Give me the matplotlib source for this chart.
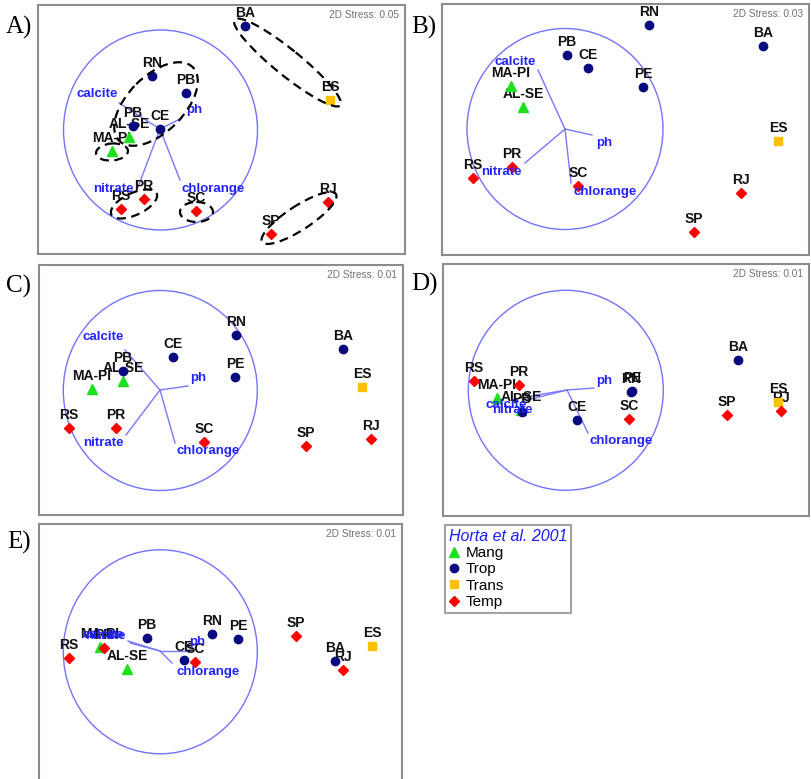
import matplotlib.pyplot as plt
from matplotlib.patches import Ellipse
from matplotlib.lines import Line2D

# site order and groups (same for all five ordinations)
sites = ['MA-PI', 'AL-SE', 'PB', 'CE', 'RN', 'PE', 'BA', 'ES', 'RS', 'PR', 'SC', 'SP', 'RJ']
groups = ['Mang', 'Mang', 'Trop', 'Trop', 'Trop', 'Trop', 'Trop', 'Trans',
          'Temp', 'Temp', 'Temp', 'Temp', 'Temp']
labels_a = ['MA-PI', 'AL-SE', 'PB', 'CE', 'RN', 'PB', 'BA', 'ES', 'RS', 'PR', 'SC', 'SP', 'RJ']
vectors = ['calcite', 'ph', 'nitrate', 'chlorange']

# MDS coordinates (page pixels)
a_x = [112, 129, 133, 160, 152, 186, 245, 330, 121, 144, 196, 271, 328]
a_y = [151, 137, 126, 129, 76, 93, 26, 100, 209, 199, 211, 234, 202]
b_x = [511, 523, 567, 588, 649, 643, 763, 778, 473, 512, 578, 694, 741]
b_y = [86, 107, 55, 68, 25, 87, 46, 141, 178, 167, 186, 232, 193]
c_x = [92, 123, 123, 173, 236, 235, 343, 362, 69, 116, 204, 306, 371]
c_y = [389, 381, 371, 357, 335, 377, 349, 387, 428, 428, 442, 446, 439]
d_x = [497, 521, 522, 577, 631, 632, 738, 778, 474, 519, 629, 727, 781]
d_y = [398, 410, 412, 420, 392, 391, 360, 402, 381, 385, 419, 415, 411]
e_x = [100, 127, 147, 184, 212, 238, 335, 372, 69, 104, 195, 296, 343]
e_y = [647, 669, 638, 660, 634, 639, 661, 646, 658, 648, 662, 636, 670]

# vector origin, vector ends and vector label positions
a_vo = (160, 129)
a_vx = [119, 182, 138, 180]
a_vy = [103, 118, 187, 180]
a_lx = [97, 194, 113, 213]
a_ly = [94, 110, 189, 189]
b_vo = (565, 129)
b_vx = [538, 592, 525, 571]
b_vy = [70, 135, 163, 183]
b_lx = [515, 604, 501, 605]
b_ly = [62, 143, 172, 192]
c_vo = (160, 390)
c_vx = [125, 188, 126, 175]
c_vy = [350, 386, 435, 443]
c_lx = [103, 198, 103, 208]
c_ly = [337, 378, 443, 451]
d_vo = (567, 390)
d_vx = [527, 594, 531, 588]
d_vy = [400, 388, 396, 433]
d_lx = [506, 604, 512, 621]
d_ly = [405, 381, 410, 441]
e_vo = (160, 651)
e_vx = [128, 190, 130, 172]
e_vy = [641, 651, 643, 663]
e_lx = [103, 197, 105, 208]
e_ly = [635, 642, 636, 672]

# correlation circles (centre x, centre y, width, height)
circ_a = (160.5, 130, 194, 200)
circ_b = (565, 129, 196, 201)
circ_c = (160.3, 390.5, 194, 200)
circ_d = (565.8, 390.3, 195, 200)
circ_e = (160.3, 651.8, 194, 204)

stress = ['0.05', '0.03', '0.01', '0.01', '0.01']

# cluster ellipses in panel A (centre x, centre y, width, height, angle)
clusters = [(287.5, 62.5, 136, 26, 39),
            (156, 104, 104, 56, -45),
            (112, 152, 32, 17, -5),
            (134, 204, 50, 22, -25),
            (196.5, 212, 33, 20, 0),
            (299, 218, 88, 24, -33)]

W, H = 811, 779
fig = plt.figure(figsize=(W / 100, H / 100), dpi=100)

style = {'Mang': ('^', '#1ee01e', 7.5),
         'Trop': ('o', '#0a0a80', 6),
         'Trans': ('s', '#ffc000', 6),
         'Temp': ('D', '#ff0000', 5)}
font = 'Liberation Sans'


def panel(rect, xs, ys, labels, vo, vx, vy, lx, ly, circ, st):
    l, t, r, b = rect
    ax = fig.add_axes([l / W, 1 - b / H, (r - l) / W, (b - t) / H])
    ax.set_xlim(l, r)
    ax.set_ylim(b, t)
    ax.set_xticks([])
    ax.set_yticks([])
    for s in ax.spines.values():
        s.set_color('#8c8c8c')
        s.set_linewidth(1.5)
    ax.add_patch(Ellipse(circ[:2], circ[2], circ[3], fill=False, ec='#7373ff', lw=1, zorder=1))
    for i in range(len(vectors)):
        ax.plot([vo[0], vx[i]], [vo[1], vy[i]], color='#7878ff', lw=1, zorder=2)
    for g in style:
        m, c, ms = style[g]
        gx = [xs[i] for i in range(len(sites)) if groups[i] == g]
        gy = [ys[i] for i in range(len(sites)) if groups[i] == g]
        ax.plot(gx, gy, ls='none', marker=m, color=c, ms=ms, mec=c, zorder=4)
    for i in range(len(sites)):
        ax.annotate(labels[i], (xs[i], ys[i]), xytext=(0, 4.5), textcoords='offset points',
                    ha='center', va='bottom', fontsize=10, fontweight='bold',
                    family=font, color='#111111', zorder=3)
    for i in range(len(vectors)):
        ax.text(lx[i], ly[i], vectors[i], ha='center', va='center', fontsize=9.5,
                fontweight='bold', family=font, color='#2222ff', zorder=5)
    ax.text(1 - 6 / (r - l), 1 - 10 / (b - t), '2D Stress: ' + st, transform=ax.transAxes,
            ha='right', va='center', fontsize=7.3, family=font, color='#707070')
    return ax


ax_a = panel((38, 5, 405, 254), a_x, a_y, labels_a, a_vo, a_vx, a_vy, a_lx, a_ly, circ_a, stress[0])
panel((442, 4, 809, 255), b_x, b_y, sites, b_vo, b_vx, b_vy, b_lx, b_ly, circ_b, stress[1])
panel((39, 265, 403, 515), c_x, c_y, sites, c_vo, c_vx, c_vy, c_lx, c_ly, circ_c, stress[2])
panel((443, 264, 809, 516), d_x, d_y, sites, d_vo, d_vx, d_vy, d_lx, d_ly, circ_d, stress[3])
panel((39, 524, 402, 792), e_x, e_y, sites, e_vo, e_vx, e_vy, e_lx, e_ly, circ_e, stress[4])

for cx, cy, w, h, ang in clusters:
    ax_a.add_patch(Ellipse((cx, cy), w, h, angle=ang, fill=False, ec='black',
                           lw=1.6, ls=(0, (4, 2.5)), zorder=6))

for txt, x, y in [('A)', 6, 27), ('B)', 411, 27), ('C)', 6, 286), ('D)', 411, 284), ('E)', 7, 542)]:
    fig.text(x / W, 1 - y / H, txt, family='Liberation Serif', fontsize=18, ha='left', va='center')

handles = [Line2D([], [], ls='none', marker=style[g][0], color=style[g][1], ms=style[g][2])
           for g in style]
leg = fig.legend(handles, list(style), loc='upper left', bbox_to_anchor=(445 / W, 1 - 525 / H),
                 frameon=True, fancybox=False, edgecolor='#8c8c8c', title='Horta et al. 2001',
                 alignment='left', title_fontproperties={'style': 'italic', 'size': 11.5, 'family': font},
                 prop={'family': font, 'size': 11}, handlelength=0.7, handletextpad=0.4,
                 labelspacing=0.15, borderpad=0.25, borderaxespad=0)
leg.get_title().set_color('#1a1aff')
leg.get_frame().set_linewidth(1.5)

fig.savefig('out.png', dpi=100)
